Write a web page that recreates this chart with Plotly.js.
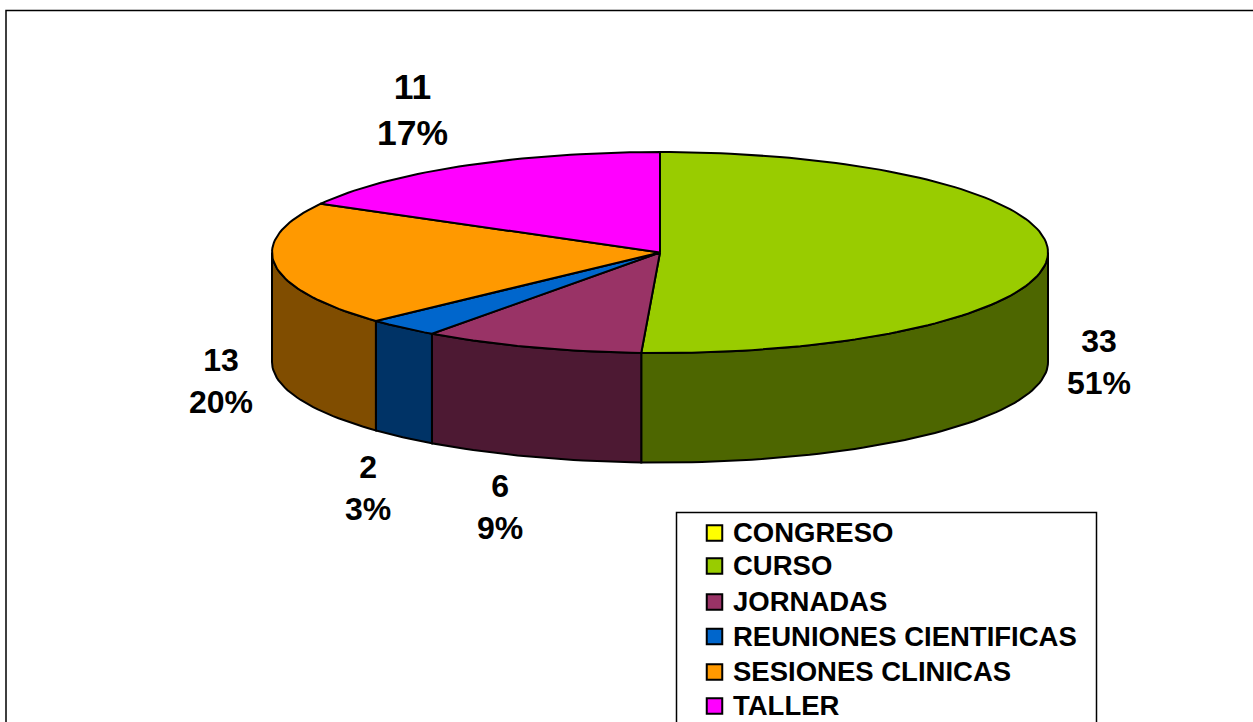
<!DOCTYPE html>
<html>
<head>
<meta charset="utf-8">
<script src="https://cdn.plot.ly/plotly-3.0.1.min.js"></script>
<style>html,body{margin:0;padding:0;background:#fff;overflow:hidden}#chart{width:1253px;height:722px}</style>
</head>
<body>
<div id="chart"></div>
<script>
// Data
const categories = ["CONGRESO", "CURSO", "JORNADAS", "REUNIONES CIENTIFICAS", "SESIONES CLINICAS", "TALLER"];
const values = [0, 33, 6, 2, 13, 11];
const topColors = ["#FFFF00", "#99CC00", "#993366", "#0066CC", "#FF9900", "#FF00FF"];
const sideColors = ["#806600", "#4D6600", "#4D1933", "#003366", "#804D00", "#800080"];

// Layout constants (pixel space of the axes)
const W = 1253, H = 722;
const cx = 660, cy = 252.5, rx = 388, ry = 100.5, depth = 109.5;
const FONT = '"Liberation Sans", Arial, sans-serif';
const labelX = [null, 1099, 500, 367.5, 220.5, 412.5];
const labelY = [null, 361.5, 506.5, 487.5, 380.5, 110];
const labelSize = [null, 32, 32, 32, 32, 35.5];
const legendRowY = [535, 568, 604, 639, 674, 708];
const swatchY = [533, 566, 602, 636.5, 672, 706];
const legendSwatchX = 714.5, legendTextX = 733;

const total = values.reduce((a, b) => a + b, 0);
const rim = deg => {
  const r = deg * Math.PI / 180;
  return [cx + rx * Math.sin(r), cy - ry * Math.cos(r)];
};
const arcPoints = (a0, a1) => {
  const pts = [];
  const n = Math.max(1, Math.ceil(Math.abs(a1 - a0) / 1.5));
  for (let i = 0; i <= n; i++) pts.push(rim(a0 + (a1 - a0) * i / n));
  return pts;
};

const sideTraces = [], topTraces = [];
const annotations = [];
let acc = 0;
values.forEach((v, i) => {
  const a0 = acc / total * 360, a1 = (acc + v) / total * 360;
  acc += v;
  if (v === 0) return;
  // visible side wall: front half of the ellipse only
  const s0 = Math.max(a0, 90), s1 = Math.min(a1, 270);
  if (s1 > s0) {
    const arc = arcPoints(s0, s1);
    const wall = arc.concat(arc.slice().reverse().map(p => [p[0], p[1] + depth]));
    wall.push(arc[0]);
    sideTraces.push({
      type: 'scatter', mode: 'lines', fill: 'toself', fillcolor: sideColors[i],
      x: wall.map(p => p[0]), y: wall.map(p => p[1]),
      line: {color: '#000', width: 2, shape: 'linear'}, hoverinfo: 'skip', showlegend: false
    });
  }
  const arc = arcPoints(a0, a1);
  const wedge = [[cx, cy]].concat(arc, [[cx, cy]]);
  topTraces.push({
    type: 'scatter', mode: 'lines', fill: 'toself', fillcolor: topColors[i],
    x: wedge.map(p => p[0]), y: wedge.map(p => p[1]),
    line: {color: '#000', width: 2, shape: 'linear'}, hoverinfo: 'skip', showlegend: false
  });
  annotations.push({
    x: labelX[i], y: labelY[i], xref: 'x', yref: 'y', showarrow: false,
    text: v + '<br>' + Math.round(v / total * 100) + '%',
    align: 'center', xanchor: 'center', yanchor: 'middle',
    font: {family: FONT, size: labelSize[i], color: '#000', weight: 700}
  });
});

const legendTrace = {
  type: 'scatter', mode: 'markers',
  x: categories.map(() => legendSwatchX), y: swatchY,
  marker: {symbol: 'square', size: 15.5, color: topColors, line: {color: '#000', width: 2}},
  hoverinfo: 'skip', showlegend: false
};
const legendText = {
  type: 'scatter', mode: 'text',
  x: categories.map(() => legendTextX), y: legendRowY,
  text: categories, textposition: 'middle right',
  textfont: {family: FONT, size: 27.5, color: '#000', weight: 700},
  hoverinfo: 'skip', showlegend: false, cliponaxis: false
};

const layout = {
  width: W, height: H, margin: {l: 0, r: 0, t: 0, b: 0},
  paper_bgcolor: '#fff', plot_bgcolor: '#fff', showlegend: false,
  xaxis: {range: [0, W], visible: false, fixedrange: true},
  yaxis: {range: [H, 0], visible: false, fixedrange: true},
  annotations,
  shapes: [
    {type: 'rect', xref: 'x', yref: 'y', x0: 6, x1: W + 20, y0: 10.5, y1: H + 20, layer: 'below',
     line: {color: '#000', width: 1.5}, fillcolor: '#fff'},
    {type: 'rect', xref: 'x', yref: 'y', x0: 676.5, x1: 1096.5, y0: 512.5, y1: H + 20, layer: 'below',
     line: {color: '#000', width: 1.5}, fillcolor: '#fff'}
  ]
};
Plotly.newPlot('chart', sideTraces.concat(topTraces, [legendTrace, legendText]), layout, {staticPlot: true, displayModeBar: false});
</script>
</body>
</html>
